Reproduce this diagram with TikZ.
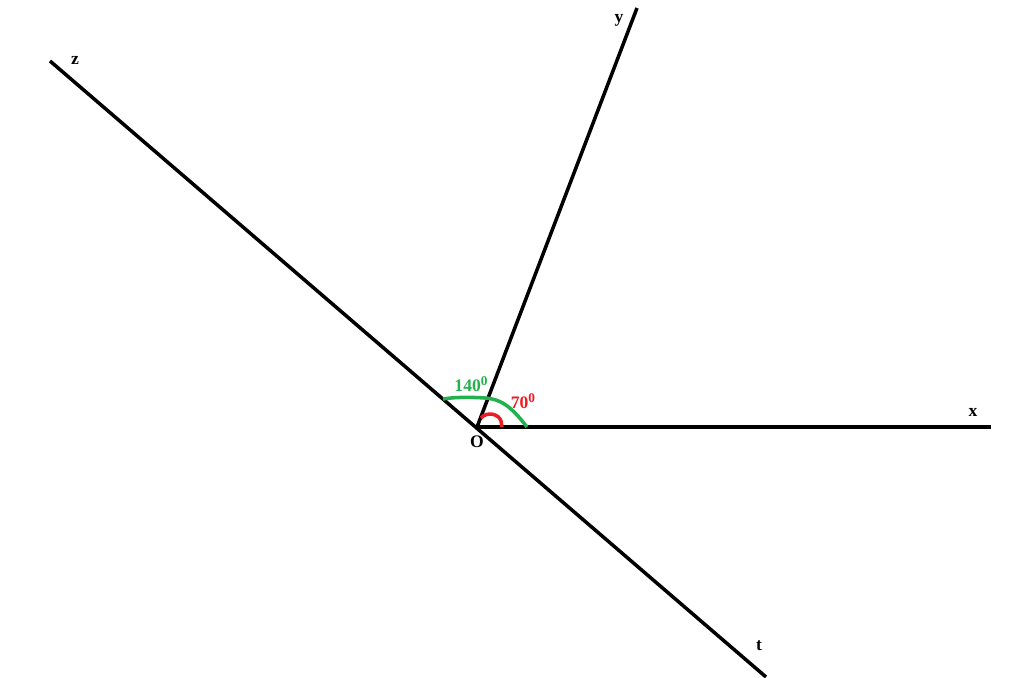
\documentclass[tikz,border=0pt]{standalone}
\usepackage{fontspec}
\setmainfont{Liberation Serif}
\definecolor{cgreen}{RGB}{34,177,76}
\definecolor{cred}{RGB}{237,28,36}
\newcommand{\angsup}[1]{\raisebox{1.6pt}{\fontsize{3.8}{4}\selectfont #1}}
\tikzset{
  ray/.style={line width=1pt,black},
  raylabel/.style={font=\fontsize{5}{6}\selectfont\bfseries,inner sep=0pt}
}

\begin{document}
\begin{tikzpicture}[x=0.1mm,y=0.1mm]
\useasboundingbox (0,0) rectangle (1024,677);

% points
\coordinate (O) at (477,250);
\coordinate (X) at (991,250);
\coordinate (Y) at (637,669);
\coordinate (Z) at (50,616);
\coordinate (T) at (766,0);

% rays
\draw[ray] (O) -- (X);
\draw[ray] (O) -- (Y);
\draw[ray] (Z) -- (T);

% angle marks
\draw[line width=1pt,cgreen] (527,250) .. controls (510,272) and (500,278) .. (485,279) .. controls (470,280) and (455,280) .. (443,278);
\draw[line width=1pt,cred] (502,250) -- (501,256) .. controls (499,263) and (487,266) .. (481,259);

% labels
\node[raylabel] (lx) at (973,265) {x};
\node[raylabel] (ly) at (619,657) {y};
\node[raylabel] (lz) at (75,617) {z};
\node[raylabel] (lt) at (759,31) {t};
\node[raylabel] (lO) at (477,235) {O};
\node[raylabel,text=cgreen] (l140) at (471,293) {140\angsup{0}};
\node[raylabel,text=cred] (l70) at (523,276) {70\angsup{0}};

\end{tikzpicture}
\end{document}
